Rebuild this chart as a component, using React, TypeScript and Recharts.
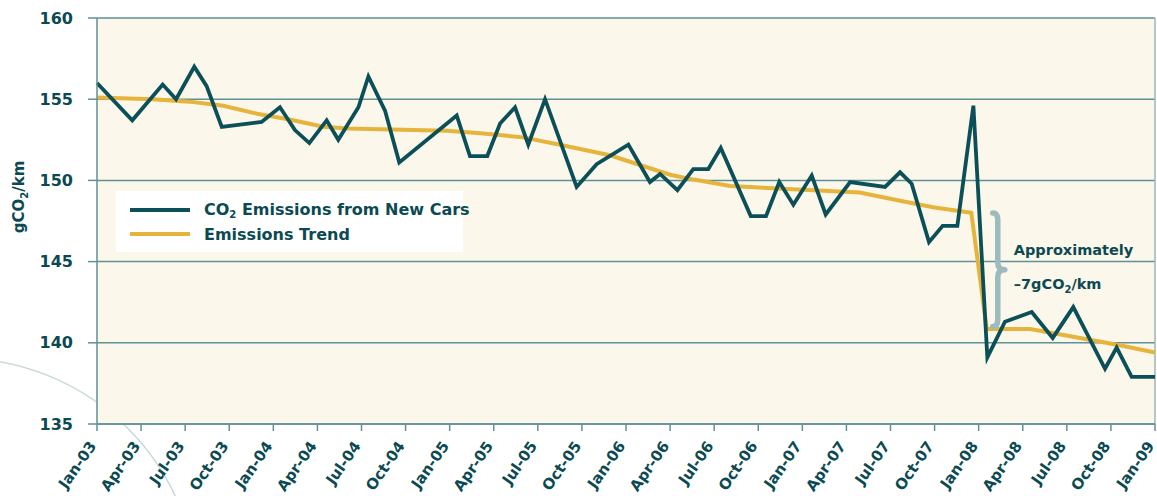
import React from "react";
import {
  LineChart,
  Line,
  XAxis,
  YAxis,
  CartesianGrid,
  ReferenceLine,
} from "recharts";

// months since Jan-03
const emissionMonths = [
  0, 2.4, 4.47, 5.38, 6.62, 7.46, 8.49, 11.2, 12.45, 13.47, 14.45, 15.63, 16.42,
  17.79, 18.47, 19.6, 20.57, 24.48, 25.38, 26.56, 27.43, 28.45, 29.35, 30.49,
  32.64, 34.0, 36.16, 37.63, 38.32, 39.5, 40.58, 41.6, 42.45, 44.49, 45.53,
  46.43, 47.39, 48.64, 49.59, 51.25, 53.63, 54.65, 55.44, 56.62, 57.55, 58.55,
  59.64, 60.59, 61.79, 63.61, 65.04, 66.44, 68.6, 69.39, 70.41, 72,
];
const emissionValues = [
  156.0, 153.7, 155.9, 155.0, 157.0, 155.8, 153.3, 153.6, 154.5, 153.1, 152.3,
  153.7, 152.5, 154.5, 156.4, 154.3, 151.1, 154.0, 151.5, 151.5, 153.5, 154.5,
  152.2, 155.0, 149.6, 151.0, 152.2, 149.9, 150.4, 149.4, 150.7, 150.7, 152.0,
  147.8, 147.8, 149.9, 148.5, 150.3, 147.9, 149.9, 149.6, 150.5, 149.8, 146.2,
  147.2, 147.2, 154.6, 139.1, 141.3, 141.9, 140.3, 142.2, 138.4, 139.7, 137.9,
  137.9,
];

const trendMonths = [
  0, 3.8, 6.3, 8.6, 10.9, 13.1, 15.4, 17.0, 19.3, 23.8, 26.1, 29.0, 31.5, 34.9,
  39.0, 40.6, 43.1, 46.3, 51.9, 54.65, 56.9, 59.5, 60.55, 63.5, 66.9, 69.6, 72,
];
const trendValues = [
  155.1, 155.0, 154.85, 154.6, 154.1, 153.75, 153.3, 153.2, 153.15, 153.05,
  152.9, 152.65, 152.2, 151.55, 150.35, 150.05, 149.65, 149.5, 149.25, 148.75,
  148.35, 148.0, 140.85, 140.85, 140.3, 139.85, 139.4,
];

const tickLabels = [
  "Jan-03", "Apr-03", "Jul-03", "Oct-03", "Jan-04", "Apr-04", "Jul-04",
  "Oct-04", "Jan-05", "Apr-05", "Jul-05", "Oct-05", "Jan-06", "Apr-06",
  "Jul-06", "Oct-06", "Jan-07", "Apr-07", "Jul-07", "Oct-07", "Jan-08",
  "Apr-08", "Jul-08", "Oct-08", "Jan-09",
];
const yTicks = [135, 140, 145, 150, 155, 160];

const emissionData = emissionMonths.map((m, i) => ({ m, v: emissionValues[i] }));
const trendData = trendMonths.map((m, i) => ({ m, v: trendValues[i] }));
const xTicks = tickLabels.map((_, i) => i * 3);

const TEAL = "#0b5058";
const GOLD = "#e6b43c";
const TEXT = "#0b4a52";
const FONT = "'DejaVu Sans', sans-serif";

const XTick = (props: any) => {
  const { x, y, payload } = props;
  const label = tickLabels[Math.round(payload.value / 3)];
  const tx = x;
  const ty = y + 13;
  return (
    <text
      x={tx}
      y={ty}
      transform={`rotate(-55 ${tx} ${ty})`}
      textAnchor="end"
      fill={TEXT}
      fontSize={15}
      fontWeight="bold"
      fontFamily={FONT}
    >
      {label}
    </text>
  );
};

const Brace = (props: any) => {
  const { x1, y1, y2 } = props;
  const mid = (y1 + y2) / 2;
  const path = `M ${x1 - 5} ${y1} Q ${x1} ${y1} ${x1} ${y1 + 7}
    L ${x1} ${mid - 7} Q ${x1} ${mid} ${x1 + 7} ${mid}
    Q ${x1} ${mid} ${x1} ${mid + 7}
    L ${x1} ${y2 - 7} Q ${x1} ${y2} ${x1 - 5} ${y2}`;
  return (
    <g>
      <path
        d={path}
        fill="none"
        stroke="#9bbbbf"
        strokeWidth={5.5}
        strokeLinecap="round"
        strokeLinejoin="round"
      />
      <text
        x={x1 + 16}
        y={mid - 15}
        fill={TEXT}
        fontSize={14.5}
        fontWeight="bold"
        fontFamily={FONT}
      >
        Approximately
      </text>
      <text
        x={x1 + 16}
        y={mid + 19}
        fill={TEXT}
        fontSize={14.5}
        fontWeight="bold"
        fontFamily={FONT}
      >
        –7gCO<tspan dy={4} fontSize={10}>2</tspan>
        <tspan dy={-4}>/km</tspan>
      </text>
    </g>
  );
};

export default function App() {
  return (
    <div
      style={{
        position: "absolute",
        left: 0,
        top: 0,
        width: 1157,
        height: 496,
        background: "#ffffff",
        overflow: "hidden",
      }}
    >
      <svg
        width={1157}
        height={496}
        style={{ position: "absolute", left: 0, top: 0 }}
      >
        <circle cx={-42} cy={598} r={240} fill="none" stroke="#c6dadb" strokeWidth={1.5} />
      </svg>

      <div style={{ position: "absolute", left: 0, top: 0 }}>
        <LineChart
          width={1157}
          height={496}
          margin={{ top: 18, right: 2, bottom: 0, left: 0 }}
        >
          <CartesianGrid
            vertical={false}
            stroke="#5f9196"
            strokeWidth={1.5}
            fill="#fbf7eb"
            fillOpacity={1}
          />
          <XAxis
            dataKey="m"
            type="number"
            domain={[0, 72]}
            ticks={xTicks}
            interval={0}
            height={72}
            tickSize={7}
            tickMargin={2}
            stroke="#5f9196"
            strokeWidth={1.5}
            tick={<XTick />}
            allowDuplicatedCategory={false}
          />
          <YAxis
            type="number"
            domain={[135, 160]}
            ticks={yTicks}
            width={97}
            tickSize={9}
            tickMargin={15}
            stroke="#5f9196"
            strokeWidth={1.5}
            tick={{
              fill: TEXT,
              fontSize: 16,
              fontWeight: "bold",
              fontFamily: FONT,
            }}
          />
          <ReferenceLine x={72} stroke="#9ab8ba" strokeWidth={1.5} />
          <Line
            data={trendData}
            dataKey="v"
            type="linear"
            stroke={GOLD}
            strokeWidth={4}
            dot={false}
            activeDot={false}
            isAnimationActive={false}
          />
          <Line
            data={emissionData}
            dataKey="v"
            type="linear"
            stroke={TEAL}
            strokeWidth={3.8}
            strokeLinejoin="miter"
            dot={false}
            activeDot={false}
            isAnimationActive={false}
          />
          <ReferenceLine
            segment={[
              { x: 61.3, y: 148 },
              { x: 61.3, y: 141 },
            ]}
            shape={Brace}
          />
        </LineChart>
      </div>

      <svg
        width={1157}
        height={496}
        style={{ position: "absolute", left: 0, top: 0, pointerEvents: "none" }}
      >
        <text
          transform="translate(24 197) rotate(-90)"
          textAnchor="middle"
          fill={TEXT}
          fontSize={15}
          fontWeight="bold"
          fontFamily={FONT}
        >
          gCO<tspan dy={4} fontSize={10}>2</tspan>
          <tspan dy={-4}>/km</tspan>
        </text>
      </svg>

      <div
        style={{
          position: "absolute",
          left: 116,
          top: 191,
          width: 347,
          height: 61,
          background: "#ffffff",
          fontFamily: FONT,
          fontWeight: "bold",
          fontSize: 16,
          color: TEXT,
        }}
      >
        {[
          { name: "CO", sub: "2", rest: " Emissions from New Cars", color: TEAL },
          { name: "Emissions Trend", sub: "", rest: "", color: GOLD },
        ].map((item, i) => (
          <div
            key={i}
            style={{
              position: "absolute",
              left: 14,
              top: 8 + i * 24,
              display: "flex",
              alignItems: "center",
              height: 22,
              whiteSpace: "nowrap",
            }}
          >
            <span
              style={{
                display: "inline-block",
                width: 60,
                height: 4,
                background: item.color,
                marginRight: 14,
              }}
            />
            <span>
              {item.name}
              {item.sub && (
                <sub style={{ fontSize: 10, verticalAlign: "-3px" }}>{item.sub}</sub>
              )}
              {item.rest}
            </span>
          </div>
        ))}
      </div>
    </div>
  );
}
